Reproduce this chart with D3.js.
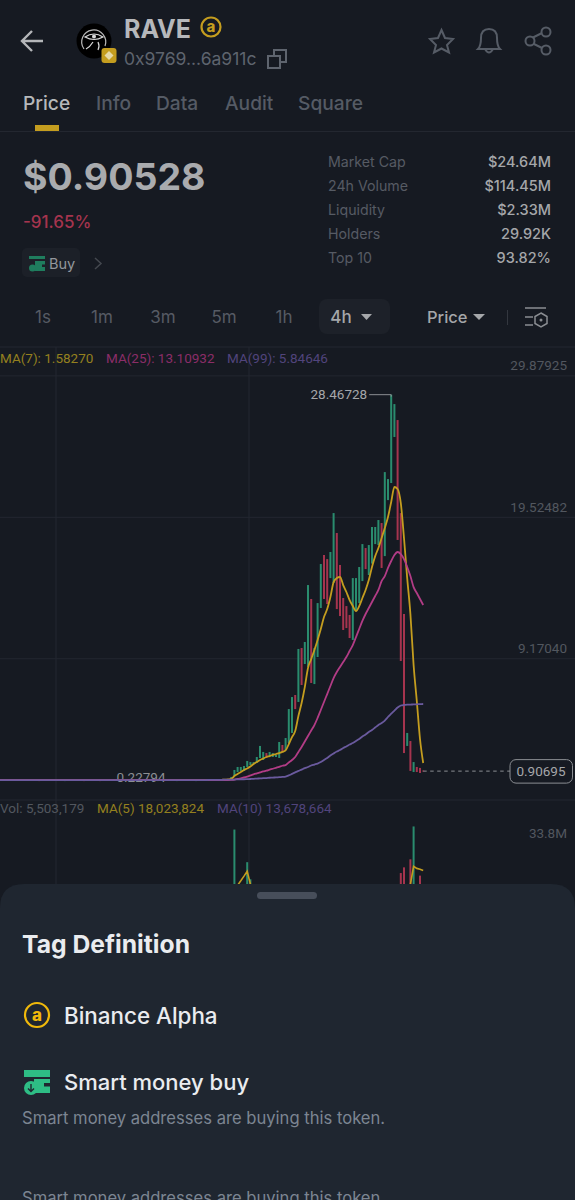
<!DOCTYPE html>
<html>
<head>
<meta charset="utf-8">
<script src="https://cdn.jsdelivr.net/npm/d3@7/dist/d3.min.js"></script>
<style>
  html, body { margin: 0; padding: 0; background: #161a22; }
  svg { display: block; }
  text { font-family: "Inter", "Noto Sans", sans-serif; }
</style>
</head>
<body>
<svg id="chart" width="575" height="1200"></svg>
<script>
(function () {

    /* values */

    var opens = [
        0.25, 0.26, 0.25, 0.24, 0.26, 0.25, 0.27, 0.25, 0.26, 0.24,
        0.25, 0.26, 0.27, 0.25, 0.24, 0.26, 0.25, 0.26, 0.27, 0.25,
        0.26, 0.24, 0.25, 0.26, 0.25, 0.27, 0.26, 0.25, 0.24, 0.26,
        0.25, 0.26, 0.25, 0.24, 0.26, 0.27, 0.25, 0.26, 0.25, 0.24,
        0.26, 0.25, 0.27, 0.26, 0.25, 0.24, 0.25, 0.26, 0.25, 0.26,
        0.24, 0.25, 0.27, 0.26, 0.25, 0.26, 0.24, 0.25, 0.26, 0.27,
        0.25, 0.26, 0.24, 0.25, 0.26, 0.25, 0.27, 0.26, 0.25, 0.26,
        0.27, 0.28, 0.28,
        0.33, 0.55, 0.84, 0.92, 0.92, 1.21, 1.35, 1.43, 1.50, 1.87,
        1.72, 2.23, 1.94, 1.94, 1.94, 1.87, 2.82, 2.45, 2.96, 3.70,
        6.48, 5.97, 9.92, 8.75, 8.53, 13.51, 7.28, 9.26, 12.85, 16.73,
        16.43, 15.04, 14.68, 18.34, 16.00, 13.58, 12.99, 12.34, 10.51, 12.70,
        13.21, 14.82, 17.24, 15.26, 16.10, 17.53, 17.46, 19.07, 16.65, 20.75,
        22.00, 25.37, 26.61, 19.80, 12.41, 2.75, 3.11, 0.84, 1.21, 1.14,
        0.95
    ];
    var closes = [
        0.27, 0.24, 0.26, 0.26, 0.25, 0.27, 0.25, 0.26, 0.24, 0.26,
        0.26, 0.27, 0.25, 0.24, 0.26, 0.25, 0.26, 0.27, 0.25, 0.26,
        0.24, 0.25, 0.26, 0.25, 0.27, 0.26, 0.25, 0.24, 0.26, 0.25,
        0.26, 0.25, 0.24, 0.26, 0.27, 0.25, 0.26, 0.25, 0.24, 0.26,
        0.25, 0.27, 0.26, 0.25, 0.24, 0.25, 0.26, 0.25, 0.26, 0.24,
        0.25, 0.27, 0.26, 0.25, 0.26, 0.24, 0.25, 0.26, 0.27, 0.25,
        0.26, 0.24, 0.25, 0.26, 0.25, 0.27, 0.26, 0.25, 0.26, 0.27,
        0.28, 0.28, 0.33,
        0.48, 0.99, 1.21, 1.21, 1.28, 1.65, 1.57, 1.57, 1.94, 2.75,
        2.31, 1.87, 2.31, 2.23, 2.09, 3.04, 2.31, 3.33, 5.45, 6.33,
        5.45, 9.85, 7.21, 10.36, 14.53, 7.36, 9.92, 13.21, 16.07, 13.51,
        13.14, 16.95, 19.80, 12.77, 12.26, 11.24, 11.38, 10.65, 15.04, 15.04,
        15.85, 17.53, 15.70, 17.46, 18.78, 18.78, 19.29, 15.78, 22.80, 22.29,
        28.47, 27.78, 17.83, 8.97, 2.23, 3.70, 0.92, 1.57, 0.84, 0.77,
        0.91
    ];

    var ma7 = [
        0.25, 0.25, 0.25, 0.25, 0.25, 0.25, 0.25, 0.25, 0.25, 0.25,
        0.25, 0.25, 0.25, 0.25, 0.25, 0.25, 0.25, 0.25, 0.25, 0.25,
        0.25, 0.25, 0.25, 0.25, 0.25, 0.25, 0.25, 0.25, 0.25, 0.25,
        0.25, 0.25, 0.25, 0.25, 0.25, 0.25, 0.25, 0.25, 0.25, 0.25,
        0.25, 0.25, 0.25, 0.25, 0.25, 0.25, 0.25, 0.25, 0.25, 0.25,
        0.25, 0.25, 0.25, 0.25, 0.25, 0.25, 0.25, 0.25, 0.25, 0.25,
        0.25, 0.25, 0.25, 0.25, 0.25, 0.25, 0.25, 0.25, 0.26, 0.26,
        0.27, 0.28, 0.30,
        0.33, 0.55, 0.70, 0.84, 0.99, 1.10, 1.24, 1.43, 1.57, 1.72,
        1.83, 1.94, 2.01, 2.09, 2.16, 2.23, 2.31, 2.42, 2.89, 3.40,
        3.84, 4.94, 5.89, 7.06, 8.46, 9.11, 9.77, 10.51, 11.31, 12.19,
        12.77, 13.65, 14.75, 15.04, 15.12, 14.53, 14.02, 13.43, 12.99, 12.63,
        12.99, 13.58, 14.17, 14.90, 15.85, 16.65, 17.24, 17.97, 18.70, 19.51,
        20.61, 21.71, 21.56, 20.53, 17.97, 15.04, 12.41, 8.68, 6.04, 3.26,
        1.50
    ];
    var ma25 = [
        0.25, 0.25, 0.25, 0.25, 0.25, 0.25, 0.25, 0.25, 0.25, 0.25,
        0.25, 0.25, 0.25, 0.25, 0.25, 0.25, 0.25, 0.25, 0.25, 0.25,
        0.25, 0.25, 0.25, 0.25, 0.25, 0.25, 0.25, 0.25, 0.25, 0.25,
        0.25, 0.25, 0.25, 0.25, 0.25, 0.25, 0.25, 0.25, 0.25, 0.25,
        0.25, 0.25, 0.25, 0.25, 0.25, 0.25, 0.25, 0.25, 0.25, 0.25,
        0.25, 0.25, 0.25, 0.25, 0.25, 0.25, 0.25, 0.25, 0.25, 0.25,
        0.25, 0.25, 0.25, 0.25, 0.25, 0.25, 0.25, 0.25, 0.25, 0.25,
        0.25, 0.25, 0.25,
        0.26, 0.28, 0.33, 0.38, 0.44, 0.51, 0.59, 0.67, 0.74, 0.81,
        0.88, 0.94, 1.01, 1.08, 1.15, 1.22, 1.30, 1.35, 1.54, 1.72,
        1.94, 2.31, 2.67, 3.07, 3.48, 3.88, 4.28, 4.80, 5.38, 5.97,
        6.55, 7.14, 7.72, 8.16, 8.53, 8.89, 9.26, 9.70, 10.14, 10.72,
        11.31, 11.90, 12.41, 12.85, 13.29, 13.73, 14.17, 14.82, 15.19, 15.78,
        16.29, 16.73, 16.95, 16.80, 16.43, 15.85, 15.19, 14.38, 13.95, 13.51,
        13.07
    ];
    var ma99 = [
        0.25, 0.25, 0.25, 0.25, 0.25, 0.25, 0.25, 0.25, 0.25, 0.25,
        0.25, 0.25, 0.25, 0.25, 0.25, 0.25, 0.25, 0.25, 0.25, 0.25,
        0.25, 0.25, 0.25, 0.25, 0.25, 0.25, 0.25, 0.25, 0.25, 0.25,
        0.25, 0.25, 0.25, 0.25, 0.25, 0.25, 0.25, 0.25, 0.25, 0.25,
        0.25, 0.25, 0.25, 0.25, 0.25, 0.25, 0.25, 0.25, 0.25, 0.25,
        0.25, 0.25, 0.25, 0.25, 0.25, 0.25, 0.25, 0.25, 0.25, 0.25,
        0.25, 0.25, 0.25, 0.25, 0.25, 0.25, 0.26, 0.26, 0.26, 0.27,
        0.27, 0.28, 0.28,
        0.29, 0.29, 0.30, 0.31, 0.31, 0.32, 0.33, 0.34, 0.36, 0.37,
        0.39, 0.40, 0.42, 0.43, 0.45, 0.46, 0.48, 0.51, 0.59, 0.70,
        0.81, 0.92, 1.02, 1.13, 1.21, 1.32, 1.39, 1.46, 1.57, 1.72,
        1.87, 2.05, 2.20, 2.34, 2.45, 2.60, 2.71, 2.85, 2.96, 3.11,
        3.26, 3.44, 3.59, 3.77, 3.92, 4.10, 4.28, 4.43, 4.61, 4.87,
        5.12, 5.34, 5.56, 5.71, 5.75, 5.77, 5.78, 5.79, 5.80, 5.81,
        5.82
    ];

    // volume in millions, only the last 61 candles reach the visible part
    var volumes = [
        3, 38.8, 9, 6, 7, 26.2, 19.6, 8, 7, 12,
        9, 6, 5, 5, 4, 10, 6, 8, 12, 11,
        7, 14, 10, 9, 15, 14, 10, 11, 12, 10,
        9, 10, 14, 13, 11, 9, 7, 8, 12, 9,
        8, 10, 7, 8, 9, 7, 8, 10, 13, 9,
        15, 13, 16, 22, 24.2, 10, 27.3, 40, 16, 21,
        5.5
    ];
    var volMa5 = [
        4, 11, 17.3, 19, 20.8, 22.7, 17.7, 14, 12, 10,
        9, 8, 7, 7, 6, 6, 6, 7, 8, 9,
        9, 9, 10, 10, 11, 12, 11, 11, 12, 12,
        11, 10, 11, 11, 11, 11, 10, 9, 9, 9,
        9, 9, 9, 9, 9, 8, 8, 8, 9, 9,
        10, 11, 12, 14, 15, 15, 17.7, 24.6, 23.8, 23.5,
        23
    ];

    var priceTicks = [29.87925, 19.52482, 9.17040];
    var volumeTicks = [33.8];
    var lastPrice = 0.90695;
    var highPrice = 28.46728;
    var lowPrice = 0.22794;
    var timeLabels = ['1s', '1m', '3m', '5m', '1h'];
    var tabLabels = ['Price', 'Info', 'Data', 'Audit', 'Square'];
    var statNames = ['Market Cap', '24h Volume', 'Liquidity', 'Holders', 'Top 10'];
    var statValues = ['$24.64M', '$114.45M', '$2.33M', '29.92K', '93.82%'];

    var green = '#2a8c6e', red = '#a5344e', gold = '#c49d1f',
        pink = '#b23c86', violet = '#6a5a9e', grid = '#232730';

    var svg = d3.select('#chart');

    function label(str, x, y, size, fill, weight, anchor) {
        return svg.append('text')
            .attr('x', x).attr('y', y)
            .attr('font-size', size)
            .attr('fill', fill)
            .attr('font-weight', weight || 400)
            .attr('text-anchor', anchor || 'start')
            .text(str);
    }

    // numbers inside the chart are in a narrower face
    function chartLabel(str, x, y, fill, anchor) {
        return label(str, x, y, 13.5, fill, 400, anchor).style('font-family', 'Roboto');
    }

    /* background + header */

    svg.append('rect').attr('width', 575).attr('height', 1200).attr('fill', '#161a22');

    // back arrow
    svg.append('path').attr('d', 'M43 41H22M32 31L22 41L32 51')
        .attr('fill', 'none').attr('stroke', '#b4b6b9').attr('stroke-width', 2.4);

    // token logo
    svg.append('circle').attr('cx', 94).attr('cy', 41).attr('r', 17.5).attr('fill', '#000');
    svg.append('path').attr('d', 'M84 49A12 12 0 1 1 105 46')
        .attr('fill', 'none').attr('stroke', '#b9b9b9').attr('stroke-width', 1.2);
    svg.append('path').attr('d', 'M85 37Q94 31 103 37Q94 42 85 37Z M93 42Q90 47 86 49 M98 42Q100 46 98 50')
        .attr('fill', 'none').attr('stroke', '#d8d8d8').attr('stroke-width', 1.2);
    svg.append('circle').attr('cx', 94).attr('cy', 36.500).attr('r', 2).attr('fill', '#d8d8d8');
    svg.append('rect').attr('x', 101.500).attr('y', 48).attr('width', 15).attr('height', 15)
        .attr('rx', 3).attr('fill', '#c49d1f');
    svg.append('path').attr('d', 'M109 51L113.500 55.500L109 60L104.500 55.500Z').attr('fill', '#e5d9a8');

    label('RAVE', 124, 38, 25, '#b6b8bb', 700);

    // alpha badge
    svg.append('circle').attr('cx', 211).attr('cy', 27).attr('r', 9.5)
        .attr('fill', 'none').attr('stroke', gold).attr('stroke-width', 2.2);
    label('a', 211, 32, 15, gold, 800, 'middle');

    label('0x9769...6a911c', 124, 65, 17.5, '#5e646e');
    svg.append('path').attr('d', 'M268 56H280V68H268Z M274 56V50H286V62H280')
        .attr('fill', 'none').attr('stroke', '#5e646e').attr('stroke-width', 2);

    // star, bell, share
    svg.append('path').attr('d', 'M441.500 30L445 38L453 39L447 45L449 52.500L441.500 48.500L434 52.500L436 45L430 39L438 38Z')
        .attr('fill', 'none').attr('stroke', '#565c66').attr('stroke-width', 2);
    svg.append('path').attr('d', 'M478 49Q481 46 481 38Q481 29 489 29Q497 29 497 38Q497 46 500 49Z M485 49Q489 56 493 49')
        .attr('fill', 'none').attr('stroke', '#565c66').attr('stroke-width', 2);
    svg.append('path').attr('d', 'M532 38L544 32M532 43L544 49')
        .attr('stroke', '#565c66').attr('stroke-width', 2);
    [[530, 41], [546, 32], [546, 50]].forEach(function (p) {
        svg.append('circle').attr('cx', p[0]).attr('cy', p[1]).attr('r', 4.5)
            .attr('fill', '#161a22').attr('stroke', '#565c66').attr('stroke-width', 2);
    });

    // tabs
    var tabX = [23, 96, 156, 225, 298];
    tabLabels.forEach(function (t, i) {
        label(t, tabX[i], 110, 19.2, i === 0 ? '#b6b8bb' : '#555b65', 500);
    });
    svg.append('rect').attr('x', 35).attr('y', 125).attr('width', 24).attr('height', 6).attr('fill', gold);
    svg.append('rect').attr('x', 0).attr('y', 131).attr('width', 575).attr('height', 1).attr('fill', '#232730');

    /* price block */

    label('$0.90528', 23, 190, 37.5, '#a9abae', 700);
    label('-91.65%', 23, 228, 17, '#a5344e', 500);

    svg.append('rect').attr('x', 22).attr('y', 248).attr('width', 58).attr('height', 29)
        .attr('rx', 5).attr('fill', '#1c2028');
    svg.append('path').attr('d', 'M29 256H45V259H29Z M29 261H45V264.500H42V267H45V271H35V261Z')
        .attr('fill', '#1f7d5e');
    svg.append('circle').attr('cx', 32.500).attr('cy', 268).attr('r', 3.500).attr('fill', '#1f7d5e');
    label('Buy', 49, 269, 14.5, '#94979c');
    svg.append('path').attr('d', 'M95 258L101 263.500L95 269').attr('fill', 'none')
        .attr('stroke', '#44484f').attr('stroke-width', 1.5);

    statNames.forEach(function (s, i) {
        label(s, 328, 167 + i * 24, 14.2, '#565b64');
        label(statValues[i], 551, 167 + i * 24, 14.5, '#a5a7aa', 500, 'end');
    });

    /* interval row */

    var timeX = [43, 102, 163, 224, 284];
    timeLabels.forEach(function (t, i) {
        label(t, timeX[i], 323, 17, '#565b64', 400, 'middle');
    });
    svg.append('rect').attr('x', 319).attr('y', 299).attr('width', 71).attr('height', 35)
        .attr('rx', 8).attr('fill', '#1d2129');
    label('4h', 341, 323, 17, '#a5a7aa', 500, 'middle');
    svg.append('path').attr('d', 'M361 314H372L366.500 320Z').attr('fill', '#a5a7aa');
    label('Price', 427, 323, 16.5, '#a5a7aa', 500);
    svg.append('path').attr('d', 'M473 314H485L479 320Z').attr('fill', '#a5a7aa');
    svg.append('rect').attr('x', 507).attr('y', 310).attr('width', 1).attr('height', 15).attr('fill', '#33373f');
    svg.append('path').attr('d', 'M525 308H546M525 317H533M525 325H533')
        .attr('stroke', '#8a8d92').attr('stroke-width', 1.5);
    svg.append('path').attr('d', 'M541 313L547 316.500V323.500L541 327L535 323.500V316.500Z')
        .attr('fill', 'none').attr('stroke', '#8a8d92').attr('stroke-width', 1.5);
    svg.append('circle').attr('cx', 541).attr('cy', 320).attr('r', 1.5).attr('fill', '#8a8d92');

    /* chart */

    var count = opens.length;
    var x = d3.scaleLinear().domain([0, count - 1]).range([-2.4, 423.2]);
    var y = d3.scaleLinear().domain([0, priceTicks[0]]).range([783.5, 375.4]);
    var yVol = d3.scaleLinear().domain([0, volumeTicks[0]]).range([930, 842.5]);

    // panel separators and vertical grid
    svg.append('g').selectAll('line').data([347, 800]).join('line')
        .attr('x1', 0).attr('x2', 575).attr('y1', function (d) { return d; }).attr('y2', function (d) { return d; })
        .attr('stroke', grid);
    svg.append('g').selectAll('line').data([56, 249]).join('line')
        .attr('x1', function (d) { return d; }).attr('x2', function (d) { return d; })
        .attr('y1', 347).attr('y2', 884)
        .attr('stroke', grid);

    var priceAxis = d3.axisRight(y)
        .tickValues(priceTicks)
        .tickSize(-575)
        .tickFormat(function (d) { return d.toFixed(5); });

    var priceAxisG = svg.append('g').attr('transform', 'translate(575,0)').call(priceAxis);
    priceAxisG.select('.domain').remove();
    priceAxisG.selectAll('.tick line').attr('stroke', grid);
    priceAxisG.selectAll('.tick text')
        .attr('x', -8).attr('dy', -5.5)
        .attr('text-anchor', 'end')
        .attr('font-size', 13.5)
        .style('font-family', 'Roboto')
        .attr('fill', '#52575f');

    var volAxis = d3.axisRight(yVol)
        .tickValues(volumeTicks)
        .tickSize(0)
        .tickFormat(function (d) { return d + 'M'; });

    var volAxisG = svg.append('g').attr('transform', 'translate(575,0)').call(volAxis);
    volAxisG.select('.domain').remove();
    volAxisG.selectAll('.tick text')
        .attr('x', -8).attr('dy', -5.5)
        .attr('text-anchor', 'end')
        .attr('font-size', 13.5)
        .style('font-family', 'Roboto')
        .attr('fill', '#52575f');

    // legends
    chartLabel('MA(7): 1.58270', 0, 363, '#94801f');
    chartLabel('MA(25): 13.10932', 106, 363, '#8b2d68');
    chartLabel('MA(99): 5.84646', 227, 363, '#51447c');
    chartLabel('Vol: 5,503,179', 0, 813, '#52575f');
    chartLabel('MA(5) 18,023,824', 97, 813, '#94801f');
    chartLabel('MA(10) 13,678,664', 217, 813, '#51447c');

    // candles
    var candleIdx = d3.range(count);
    var barW = 2;

    svg.append('g').selectAll('rect').data(candleIdx).join('rect')
        .attr('x', function (i) { return x(i) - barW / 2; })
        .attr('width', barW)
        .attr('y', function (i) { return y(Math.max(opens[i], closes[i])); })
        .attr('height', function (i) { return Math.max(1, Math.abs(y(opens[i]) - y(closes[i]))); })
        .attr('fill', function (i) { return closes[i] >= opens[i] ? green : red; });

    // volume bars, the last 61 candles
    var volOffset = count - volumes.length;
    svg.append('g').selectAll('rect').data(volumes).join('rect')
        .attr('x', function (d, i) { return x(i + volOffset) - barW / 2; })
        .attr('width', barW)
        .attr('y', function (d) { return yVol(d); })
        .attr('height', function (d) { return yVol(0) - yVol(d); })
        .attr('fill', function (d, i) {
            var k = i + volOffset;
            return closes[k] >= opens[k] ? green : red;
        });

    var volLine = d3.line()
        .x(function (d, i) { return x(i + volOffset); })
        .y(function (d) { return yVol(d); });
    svg.append('path').datum(volMa5).attr('d', volLine)
        .attr('fill', 'none').attr('stroke', gold).attr('stroke-width', 1.6);

    // low mark sits under the lines
    chartLabel(lowPrice.toFixed(5), 141, y(lowPrice) + 1.5, '#8b8e93', 'middle');

    // moving averages, the violet one ends up on top along the flat part
    var maLine = d3.line()
        .x(function (d, i) { return x(i); })
        .y(function (d) { return y(d); })
        .curve(d3.curveMonotoneX);

    [[ma7, gold], [ma25, pink], [ma99, violet]].forEach(function (m) {
        svg.append('path').datum(m[0]).attr('d', maLine)
            .attr('fill', 'none').attr('stroke', m[1]).attr('stroke-width', 1.8);
    });

    // high mark
    var highIdx = d3.range(count).reduce(function (a, b) { return closes[b] > closes[a] ? b : a; }, 0);
    svg.append('path')
        .attr('d', 'M' + (x(highIdx) - 22) + ' ' + y(highPrice) + 'H' + x(highIdx) + 'v2')
        .attr('fill', 'none').attr('stroke', '#8b8e93');
    chartLabel(highPrice.toFixed(5), x(highIdx) - 24, y(highPrice) + 4.5, '#a5a7aa', 'end');

    // last price
    svg.append('line')
        .attr('x1', x(count - 1)).attr('x2', 510)
        .attr('y1', y(lastPrice)).attr('y2', y(lastPrice))
        .attr('stroke', '#8b8e93').attr('stroke-dasharray', '3.5 3.5');
    svg.append('rect')
        .attr('x', 510).attr('y', y(lastPrice) - 11.5).attr('width', 62.5).attr('height', 23.5)
        .attr('rx', 6).attr('fill', '#161a22').attr('stroke', '#8b8e93');
    chartLabel(lastPrice.toFixed(5), 541, y(lastPrice) + 4.5, '#a5a7aa', 'middle');

    /* bottom sheet */

    svg.append('path')
        .attr('d', 'M0 1200V908Q0 884 24 884H551Q575 884 575 908V1200Z')
        .attr('fill', '#1f2630');
    svg.append('rect').attr('x', 257).attr('y', 892).attr('width', 60).attr('height', 7)
        .attr('rx', 3.5).attr('fill', '#474e5a');

    label('Tag Definition', 22, 953, 24.7, '#eaecef', 700);

    svg.append('circle').attr('cx', 37).attr('cy', 1015).attr('r', 12)
        .attr('fill', 'none').attr('stroke', '#f0b90b').attr('stroke-width', 2.2);
    label('a', 37, 1021, 17, '#f0b90b', 800, 'middle');
    label('Binance Alpha', 64, 1024, 22.4, '#eaecef', 500);

    svg.append('path').attr('d', 'M24 1070H50V1077H24Z M24 1079H50V1083H44V1086.500H50V1093H34V1079Z')
        .attr('fill', '#2ebd85');
    svg.append('circle').attr('cx', 31).attr('cy', 1088).attr('r', 7).attr('fill', '#2ebd85');
    svg.append('path').attr('d', 'M31 1084V1091M28 1088.500L31 1091.500L34 1088.500')
        .attr('fill', 'none').attr('stroke', '#1f2630').attr('stroke-width', 1.4);
    label('Smart money buy', 64, 1090, 22, '#eaecef', 500);

    label('Smart money addresses are buying this token.', 22, 1124, 16.6, '#7c8592');
    // scrolled off the bottom in the reference too
    label('Smart money addresses are buying this token.', 22, 1204, 16.6, '#7c8592');

})();
</script>
</body>
</html>
